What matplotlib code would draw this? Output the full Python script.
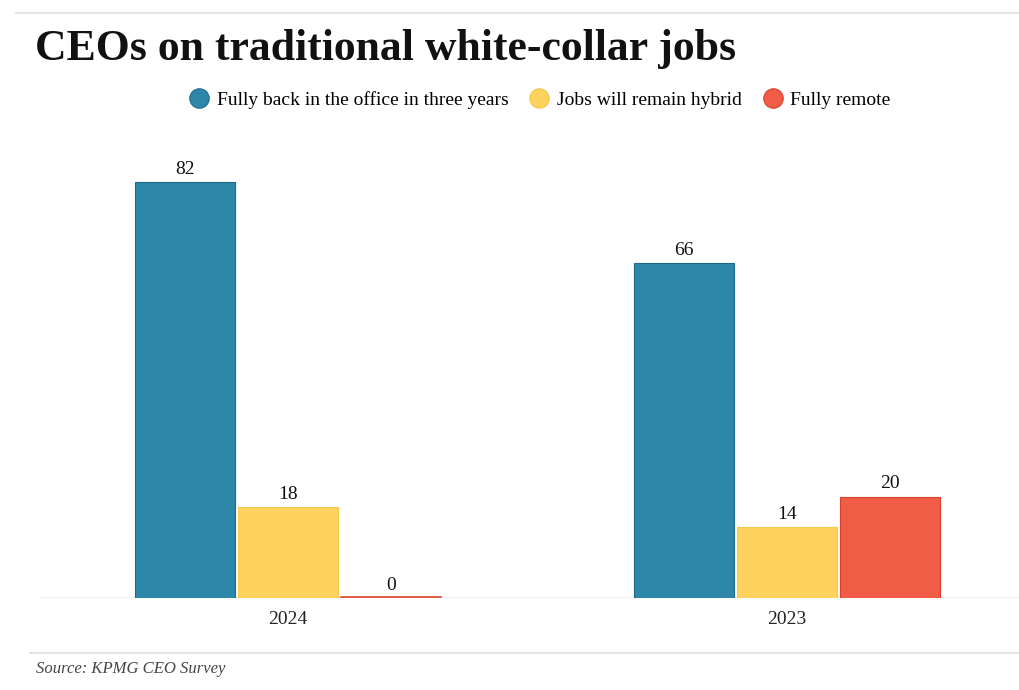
import matplotlib
matplotlib.use("Agg")
import matplotlib.pyplot as plt
from matplotlib.lines import Line2D
import numpy as np

categories = ["2024", "2023"]
series_names = ["Fully back in the office in three years", "Jobs will remain hybrid", "Fully remote"]
office = [82, 66]
hybrid = [18, 14]
remote = [0, 20]
values = [office, hybrid, remote]
colors = ["#2d87a8", "#fed35d", "#f05c46"]
edges = ["#1d6a88", "#f5c84a", "#d9402c"]

W, H = 1019, 690
fig = plt.figure(figsize=(W / 100, H / 100), dpi=100)
plt.rcParams['font.family'] = ['Liberation Serif', 'DejaVu Serif']

# axes in pixel placement
left_px, right_px = 38, 1019
base_px = 598
ppu = 5.073
ymax = 90
top_px = base_px - ymax * ppu
ax = fig.add_axes([left_px / W, 1 - base_px / H, (right_px - left_px) / W, (base_px - top_px) / H])

c0, c1 = 288, 787
unit = c1 - c0
ax.set_xlim((left_px - c0) / unit, (right_px - c0) / unit)
ax.set_ylim(0, ymax)

x = np.arange(len(categories))
bw = 0.2
off = 0.207
for i, (vals, col, ec) in enumerate(zip(values, colors, edges)):
    xs = x + (i - 1) * off
    ax.bar(xs, vals, width=bw, color=col, edgecolor=ec, linewidth=0.8, zorder=3)
    for xi, v in zip(xs, vals):
        if v == 0:
            ax.plot([xi - bw / 2, xi + bw / 2], [0.15, 0.15], color="#d9402c", lw=1.2, zorder=4)
        ax.text(xi, v + 0.8, str(v), ha="center", va="bottom", fontsize=14, color="#111111")

ax.axhline(0, color="#f0f0f0", lw=1.2, zorder=2)
for s in ax.spines.values():
    s.set_visible(False)
ax.set_yticks([])
ax.set_xticks(x)
ax.set_xticklabels(categories, fontsize=14, color="#222222")
ax.tick_params(axis="x", length=0, pad=9)

# title
fig.text(35 / W, 1 - 49 / H, "CEOs on traditional white-collar jobs", fontsize=31.5, fontweight="bold",
         ha="left", va="center", color="#111111")

# legend
handles = [Line2D([0], [0], marker="o", linestyle="none", markersize=14, markerfacecolor=c,
                  markeredgecolor=e, markeredgewidth=0.8) for c, e in zip(colors, edges)]
fig.legend(handles, series_names, loc="center", bbox_to_anchor=(540 / W, 1 - 100 / H), ncol=3,
           frameon=False, fontsize=14, handletextpad=0.4, columnspacing=1.1, handlelength=1.0)

# rules
fig.add_artist(Line2D([16 / W, 1], [1 - 13 / H, 1 - 13 / H], color="#e3e3e3", lw=1.5))
fig.add_artist(Line2D([30 / W, 1], [1 - 653 / H, 1 - 653 / H], color="#e3e3e3", lw=1.5))

fig.text(36 / W, 1 - 669 / H, "Source: KPMG CEO Survey", fontsize=12, style="italic",
         color="#444444", ha="left", va="center")

fig.savefig("out.png", dpi=100)
